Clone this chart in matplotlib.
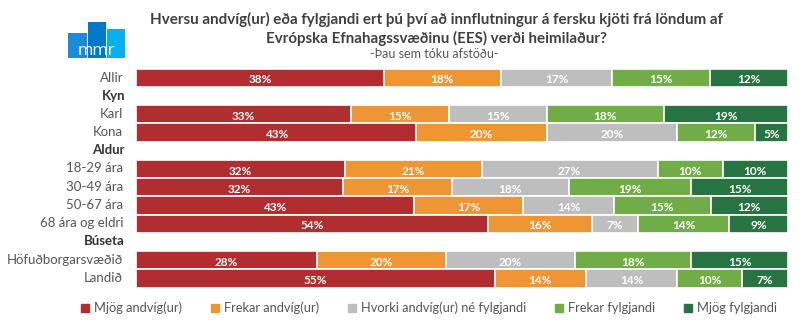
import matplotlib.pyplot as plt
from matplotlib.patches import Rectangle
import numpy as np

plt.rcParams['font.family'] = ['Lato', 'DejaVu Sans']

rows = ['Allir', 'Kyn', 'Karl', 'Kona', 'Aldur', '18-29 ára', '30-49 ára',
        '50-67 ára', '68 ára og eldri', 'Búseta', 'Höfuðborgarsvæðið', 'Landið']
headers = ['Kyn', 'Aldur', 'Búseta']

series = ['Mjög andvíg(ur)', 'Frekar andvíg(ur)', 'Hvorki andvíg(ur) né fylgjandi',
          'Frekar fylgjandi', 'Mjög fylgjandi']
colors = ['#b02d30', '#ee9633', '#bebebe', '#70ad47', '#287342']

vals = {
    'Allir': [38, 18, 17, 15, 12],
    'Karl': [33, 15, 15, 18, 19],
    'Kona': [43, 20, 20, 12, 5],
    '18-29 ára': [32, 21, 27, 10, 10],
    '30-49 ára': [32, 17, 18, 19, 15],
    '50-67 ára': [43, 17, 14, 15, 12],
    '68 ára og eldri': [54, 16, 7, 14, 9],
    'Höfuðborgarsvæðið': [28, 20, 20, 18, 15],
    'Landið': [55, 14, 14, 10, 7],
}

fig = plt.figure(figsize=(8.02, 3.34), dpi=100)
ax = fig.add_axes([136 / 802, 1 - 287.5 / 334, 652 / 802, 219 / 334])

for i, r in enumerate(rows):
    if r in headers:
        continue
    v = np.array(vals[r], dtype=float)
    w = v / v.sum() * 100  # rounded shares, scaled to a full bar
    left = 0
    for j in range(5):
        ax.barh(i, w[j], left=left, height=1.0, color=colors[j],
                edgecolor='white', linewidth=1.2)
        ax.text(left + w[j] / 2, i + 0.12, f'{vals[r][j]}%', ha='center', va='center',
                color='white', fontsize=8.5, fontweight='bold')
        left += w[j]

ax.set_xlim(0, 100)
ax.set_ylim(len(rows) - 0.5, -0.5)
ax.axis('off')

# row labels on the left
for i, r in enumerate(rows):
    if r in headers:
        fig.text(125 / 802, 1 - (77.5 + i * 18.2) / 334, r, ha='right', va='center',
                 fontsize=9.5, fontweight='bold', color='#333333')
    else:
        fig.text(123 / 802, 1 - (77.5 + i * 18.2) / 334, r, ha='right', va='center',
                 fontsize=9.5, color='#555555')

fig.text(437 / 802, 1 - 19 / 334,
         'Hversu andvíg(ur) eða fylgjandi ert þú því að innflutningur á fersku kjöti frá löndum af',
         ha='center', va='center', fontsize=10.9, fontweight='bold', color='#404040')
fig.text(437 / 802, 1 - 38 / 334, 'Evrópska Efnahagssvæðinu (EES) verði heimilaður?',
         ha='center', va='center', fontsize=10.9, fontweight='bold', color='#404040')
fig.text(434 / 802, 1 - 54 / 334, '-Þau sem tóku afstöðu-',
         ha='center', va='center', fontsize=9, color='#555555')

# mmr logo
logo = [(68, 33, 87, '#1a8bd6'), (88, 22, 106, '#0079c8'), (107, 29, 125, '#04b1ec')]
for x0, y0, x1, c in logo:
    fig.add_artist(Rectangle((x0 / 802, 1 - 58 / 334), (x1 - x0) / 802, (58 - y0) / 334,
                             transform=fig.transFigure, color=c, lw=0))
fig.text(96 / 802, 1 - 51 / 334, 'mmr', ha='center', va='center', fontsize=12,
         color='white', fontfamily='Open Sans')

# legend
handles = [plt.Line2D([], [], marker='s', ls='', color=c, markersize=6) for c in colors]
leg = fig.legend(handles, series, loc='center', bbox_to_anchor=(429 / 802, 1 - 308 / 334),
                 ncol=5, frameon=False, fontsize=9.3, handlelength=0.7, handletextpad=0.35,
                 columnspacing=2.2)
for t in leg.get_texts():
    t.set_color('#555555')

fig.savefig('out.png', dpi=100)
